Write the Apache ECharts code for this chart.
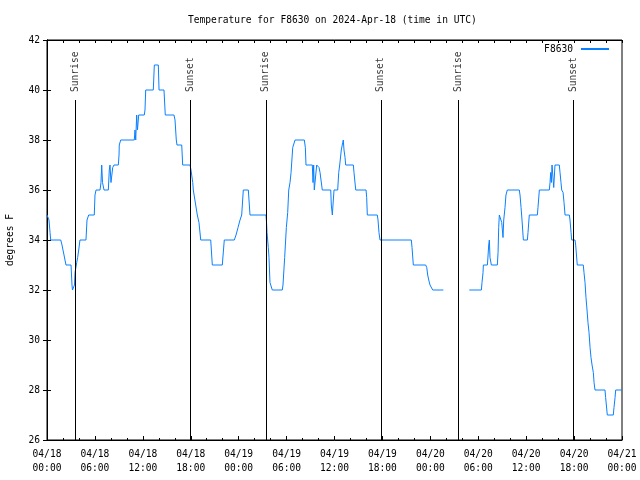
<!DOCTYPE html>
<html>
<head>
<meta charset="utf-8">
<script src="https://cdn.jsdelivr.net/npm/echarts@6/dist/echarts.min.js"></script>
<style>html,body{margin:0;padding:0;background:#fff}#c{width:640px;height:480px}</style>
</head>
<body>
<div id="c"></div>
<script>
// hours since 2024-04-18 00:00 UTC
var hours = [0,0.13,0.25,0.38,0.46,1.72,1.88,2.00,2.13,2.25,2.38,3.01,3.13,3.19,3.38,3.44,3.51,3.72,3.84,3.97,4.13,4.88,5.01,5.22,5.92,6.01,6.14,6.64,6.76,6.85,6.95,7.14,7.68,7.80,7.89,8.01,8.23,8.39,8.93,9.02,9.05,9.23,10.93,11.02,11.11,11.23,11.33,11.48,12.18,12.27,12.36,13.31,13.44,13.94,14.03,14.65,14.81,15.90,16.03,16.19,16.28,16.87,16.99,17.91,18.03,18.25,18.32,18.62,18.82,19.03,19.25,20.50,20.70,21.95,22.20,23.45,23.67,23.92,24.17,24.38,24.58,25.21,25.42,27.42,27.49,27.55,27.71,27.80,27.92,28.21,29.46,29.55,29.76,29.97,30.14,30.27,30.43,30.56,30.77,30.90,31.06,32.22,32.35,32.43,33.22,33.31,33.39,33.47,33.77,33.97,34.06,34.19,34.31,34.47,35.53,35.60,35.73,35.81,35.94,36.40,36.53,36.65,36.85,37.03,37.10,37.19,37.32,37.40,38.36,38.44,38.66,39.95,40.03,40.11,41.36,41.45,41.57,41.70,45.62,45.71,45.87,47.42,47.55,47.67,47.80,47.96,48.30,49.63,51.00,52.88,54.39,54.47,54.60,54.64,55.14,55.19,55.31,55.39,55.47,55.64,56.39,56.48,56.56,56.64,56.81,56.94,57.10,57.19,57.35,57.47,57.64,59.14,59.23,59.36,59.48,59.65,60.15,60.23,60.39,61.40,61.48,61.65,62.90,62.99,63.07,63.15,63.24,63.45,63.61,64.15,64.24,64.36,64.45,64.62,64.74,64.87,65.41,65.49,65.62,65.70,66.12,66.20,66.40,67.15,67.24,67.37,67.49,67.62,67.74,67.87,68.00,68.12,68.25,68.41,68.50,68.62,69.87,69.95,70.16,70.91,71.00,71.13,71.21,72.0];
var temps = [35.0,35.0,34.8,34.3,34.0,34.0,33.8,33.6,33.4,33.2,33.0,33.0,32.2,32.0,32.0,32.2,32.7,33.1,33.3,33.6,34.0,34.0,34.8,35.0,35.0,35.8,36.0,36.0,36.3,37.0,36.3,36.0,36.0,36.8,37.0,36.3,36.9,37.0,37.0,37.4,37.8,38.0,38.0,38.4,38.0,39.0,38.4,39.0,39.0,39.2,40.0,40.0,41.0,41.0,40.0,40.0,39.0,39.0,38.8,38.0,37.8,37.8,37.0,37.0,36.8,36.3,36.0,35.4,35.0,34.7,34.0,34.0,33.0,33.0,34.0,34.0,34.2,34.5,34.8,35.0,36.0,36.0,35.0,35.0,34.7,34.3,33.7,33.3,32.3,32.0,32.0,32.2,33.3,34.5,35.1,36.0,36.3,36.7,37.7,37.7,38.0,38.0,37.7,37.0,37.0,36.3,37.0,36.0,37.0,37.0,36.9,36.7,36.4,36.0,36.0,35.4,35.0,35.4,36.0,36.0,36.7,37.0,37.6,37.9,38.0,37.6,37.3,37.0,37.0,36.7,36.0,36.0,35.7,35.0,35.0,34.8,34.3,34.0,34.0,33.7,33.0,33.0,32.9,32.6,32.4,32.2,32.0,32.0,'-',32.0,32.0,32.3,32.7,33.0,33.0,33.2,33.8,34.0,33.3,33.0,33.0,33.5,34.5,35.0,35.0,34.7,34.1,34.8,35.3,35.8,36.0,36.0,35.8,35.3,34.8,34.0,34.0,34.3,35.0,35.0,35.3,36.0,36.0,36.3,36.7,36.3,37.0,36.1,37.0,37.0,36.7,36.3,36.0,35.9,35.5,35.0,35.0,34.8,34.3,34.0,34.0,33.8,33.0,33.0,32.7,32.3,31.7,31.2,30.7,30.3,29.7,29.3,29.0,28.7,28.3,28.0,28.0,27.7,27.0,27.0,27.3,27.7,28.0,28.0];
var sunriseHours = [3.51, 27.42, 51.47];
var sunsetHours = [17.91, 41.82, 65.87];
var yTicks = {min: 26, max: 42, step: 2};
var xTicks = {min: 0, max: 72, step: 6};

var FONT = 'DejaVu Sans Mono';
var FS = 9.6;
var data = hours.map(function (h, i) { return [h, temps[i]]; });
var sunLines = [];
var sunLabels = [];
sunriseHours.forEach(function (h) { sunLines.push([{coord: [h, 39.6]}, {coord: [h, 26]}]); sunLabels.push([h, 39.92, 'Sunrise']); });
sunsetHours.forEach(function (h) { sunLines.push([{coord: [h, 39.6]}, {coord: [h, 26]}]); sunLabels.push([h, 39.92, 'Sunset']); });

function fmtX(v) {
  var d = 18 + Math.floor(v / 24);
  var hh = v % 24;
  return '04/' + d + '\n' + (hh < 10 ? '0' : '') + hh + ':00';
}
var axisLineStyle = {lineStyle: {color: '#000', width: 1}};
var chart = echarts.init(document.getElementById('c'), null, {renderer: 'canvas'});
chart.setOption({
  animation: false,
  backgroundColor: '#fff',
  textStyle: {fontFamily: FONT, fontSize: FS, color: '#000'},
  title: {text: 'Temperature for F8630 on 2024-Apr-18 (time in UTC)', left: 183, top: 10,
    textStyle: {fontFamily: FONT, fontSize: FS, fontWeight: 'normal', color: '#000'}},
  legend: {data: ['F8630'], right: 30, top: 44, padding: 0, align: 'right', itemWidth: 28, itemHeight: 2, itemGap: 0,
    textStyle: {fontFamily: FONT, fontSize: FS, color: '#000', padding: [0, 3, 0, 0]}},
  grid: {left: 47, right: 18, top: 40, bottom: 40, show: true, borderColor: '#000', borderWidth: 1,
    containLabel: false, outerBoundsMode: 'none'},
  xAxis: [{
    type: 'value', min: xTicks.min, max: xTicks.max, interval: xTicks.step,
    axisLine: axisLineStyle,
    axisTick: {inside: true, length: 4, lineStyle: {color: '#000'}},
    minorTick: {show: true, splitNumber: 3, length: 2, lineStyle: {color: '#000'}},
    splitLine: {show: false},
    axisLabel: {formatter: fmtX, fontFamily: FONT, fontSize: FS, color: '#000', margin: 7, lineHeight: 14, showMinLabel: true, showMaxLabel: true, hideOverlap: false}
  }, {
    type: 'value', position: 'top', min: xTicks.min, max: xTicks.max, interval: xTicks.step,
    axisLine: axisLineStyle,
    axisTick: {inside: true, length: 3, lineStyle: {color: '#000'}},
    minorTick: {show: true, splitNumber: 3, length: 3, lineStyle: {color: '#000'}},
    splitLine: {show: false}, axisLabel: {show: false}
  }],
  yAxis: [{
    type: 'value', min: yTicks.min, max: yTicks.max, interval: yTicks.step,
    name: 'degrees F', nameLocation: 'middle', nameGap: 32, nameRotate: 90,
    nameTextStyle: {fontFamily: FONT, fontSize: FS, color: '#000'},
    axisLine: {show: true, lineStyle: {color: '#000', width: 1}},
    axisTick: {show: true, inside: true, length: 4, lineStyle: {color: '#000'}},
    splitLine: {show: false},
    axisLabel: {fontFamily: FONT, fontSize: FS, color: '#000', margin: 7}
  }, {
    type: 'value', position: 'right', min: yTicks.min, max: yTicks.max, interval: yTicks.step,
    axisLine: {show: true, lineStyle: {color: '#000', width: 1}},
    axisTick: {show: true, inside: true, length: 4, lineStyle: {color: '#000'}},
    splitLine: {show: false}, axisLabel: {show: false}
  }],
  series: [{
    name: 'F8630', type: 'line', data: data, showSymbol: false, symbol: 'none',
    connectNulls: false, lineStyle: {color: '#0a80ff', width: 1}, itemStyle: {color: '#0a80ff'},
    z: 3
  }, {
    name: 'sun', type: 'scatter', data: sunLabels, symbolSize: 0, silent: true, z: 4,
    label: {show: true, formatter: function (p) { return p.data[2]; }, rotate: 90, position: 'top',
      distance: 0, align: 'left', verticalAlign: 'middle', fontFamily: FONT, fontSize: FS, color: '#000'},
    markLine: {silent: true, symbol: 'none', data: sunLines, label: {show: false},
      lineStyle: {color: '#000', width: 1, type: 'solid'}, animation: false}
  }]
});
</script>
</body>
</html>
